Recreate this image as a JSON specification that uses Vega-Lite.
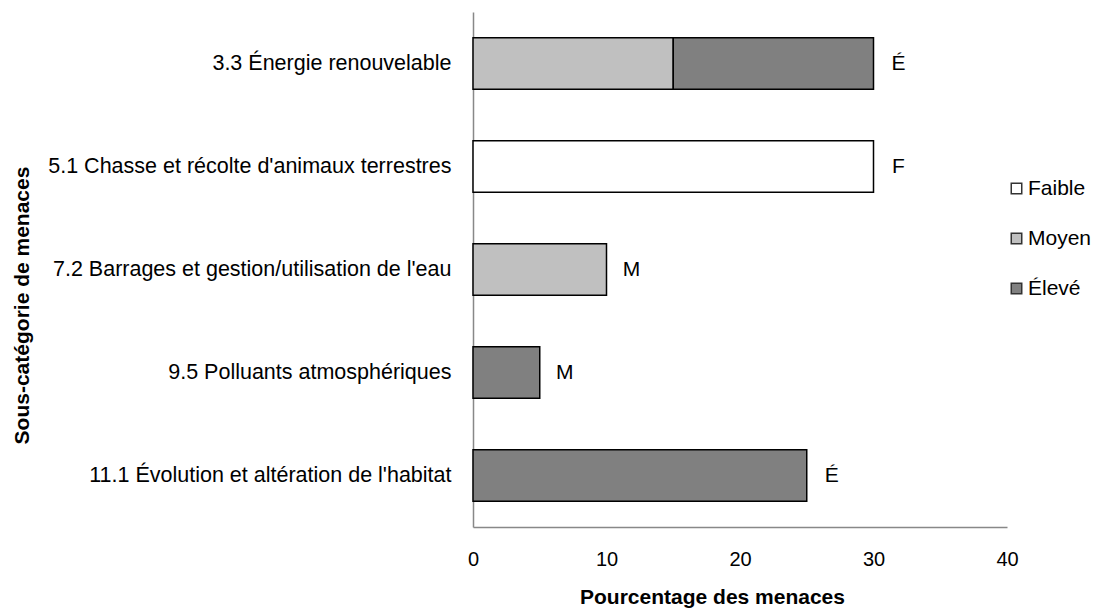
{
  "$schema": "https://vega.github.io/schema/vega-lite/v6.json",
  "autosize": {"type": "none"},
  "padding": {"left": 473, "top": 12, "right": 105, "bottom": 82},
  "width": 534,
  "height": 515,
  "background": "white",
  "config": {
    "font": "Liberation Sans",
    "view": {"stroke": null}
  },
  "datasets": {
    "menaces": [
      {"categorie": "3.3 Énergie renouvelable", "niveau": "Moyen", "rang": 2, "pourcentage": 15},
      {"categorie": "3.3 Énergie renouvelable", "niveau": "Élevé", "rang": 3, "pourcentage": 15},
      {"categorie": "5.1 Chasse et récolte d'animaux terrestres", "niveau": "Faible", "rang": 1, "pourcentage": 30},
      {"categorie": "7.2 Barrages et gestion/utilisation de l'eau", "niveau": "Moyen", "rang": 2, "pourcentage": 10},
      {"categorie": "9.5 Polluants atmosphériques", "niveau": "Élevé", "rang": 3, "pourcentage": 5},
      {"categorie": "11.1 Évolution et altération de l'habitat", "niveau": "Élevé", "rang": 3, "pourcentage": 25}
    ],
    "etiquettes": [
      {"categorie": "3.3 Énergie renouvelable", "total": 30, "impact": "É"},
      {"categorie": "5.1 Chasse et récolte d'animaux terrestres", "total": 30, "impact": "F"},
      {"categorie": "7.2 Barrages et gestion/utilisation de l'eau", "total": 10, "impact": "M"},
      {"categorie": "9.5 Polluants atmosphériques", "total": 5, "impact": "M"},
      {"categorie": "11.1 Évolution et altération de l'habitat", "total": 25, "impact": "É"}
    ]
  },
  "layer": [
    {
      "data": {"name": "menaces"},
      "mark": {"type": "bar", "stroke": "#000000", "strokeWidth": 1.5},
      "encoding": {
        "y": {
          "field": "categorie",
          "type": "nominal",
          "sort": null,
          "scale": {"paddingInner": 0.5, "paddingOuter": 0.25},
          "axis": {
            "title": "Sous-catégorie de menaces",
            "titleFontSize": 21,
            "titleFontWeight": "bold",
            "titleColor": "#000000",
            "titleAngle": -90,
            "titleX": -445,
            "titleY": 293,
            "titleAlign": "center",
            "titleBaseline": "alphabetic",
            "labelFontSize": 21.5,
            "labelColor": "#000000",
            "labelPadding": 22,
            "labelLimit": 0,
            "ticks": false,
            "grid": false,
            "domainColor": "#888888",
            "domainWidth": 1.5
          }
        },
        "x": {
          "field": "pourcentage",
          "type": "quantitative",
          "stack": "zero",
          "scale": {"domain": [0, 40], "nice": false},
          "axis": {
            "title": "Pourcentage des menaces",
            "titleFontSize": 21,
            "titleFontWeight": "bold",
            "titleColor": "#000000",
            "titleX": 239,
            "titleY": 76,
            "titleAlign": "center",
            "titleBaseline": "alphabetic",
            "values": [0, 10, 20, 30, 40],
            "labelFontSize": 20,
            "labelColor": "#000000",
            "labelPadding": 22,
            "labelFlush": false,
            "labelOverlap": false,
            "ticks": false,
            "grid": false,
            "domainColor": "#888888",
            "domainWidth": 1.5
          }
        },
        "color": {
          "field": "niveau",
          "type": "nominal",
          "scale": {"domain": ["Faible", "Moyen", "Élevé"], "range": ["#FFFFFF", "#C0C0C0", "#808080"]},
          "legend": {
            "title": null,
            "orient": "none",
            "legendX": 533,
            "legendY": 166,
            "symbolType": "square",
            "symbolSize": 110,
            "symbolStrokeColor": "#333333",
            "symbolStrokeWidth": 1.5,
            "labelFontSize": 21,
            "labelColor": "#000000",
            "labelOffset": 1,
            "rowPadding": 28
          }
        },
        "order": {"field": "rang", "type": "quantitative"}
      }
    },
    {
      "data": {"name": "etiquettes"},
      "mark": {"type": "text", "fontSize": 21, "color": "#000000", "align": "center", "baseline": "middle", "dx": 25},
      "encoding": {
        "y": {"field": "categorie", "type": "nominal", "sort": null},
        "x": {"field": "total", "type": "quantitative"},
        "text": {"field": "impact", "type": "nominal"}
      }
    }
  ]
}
